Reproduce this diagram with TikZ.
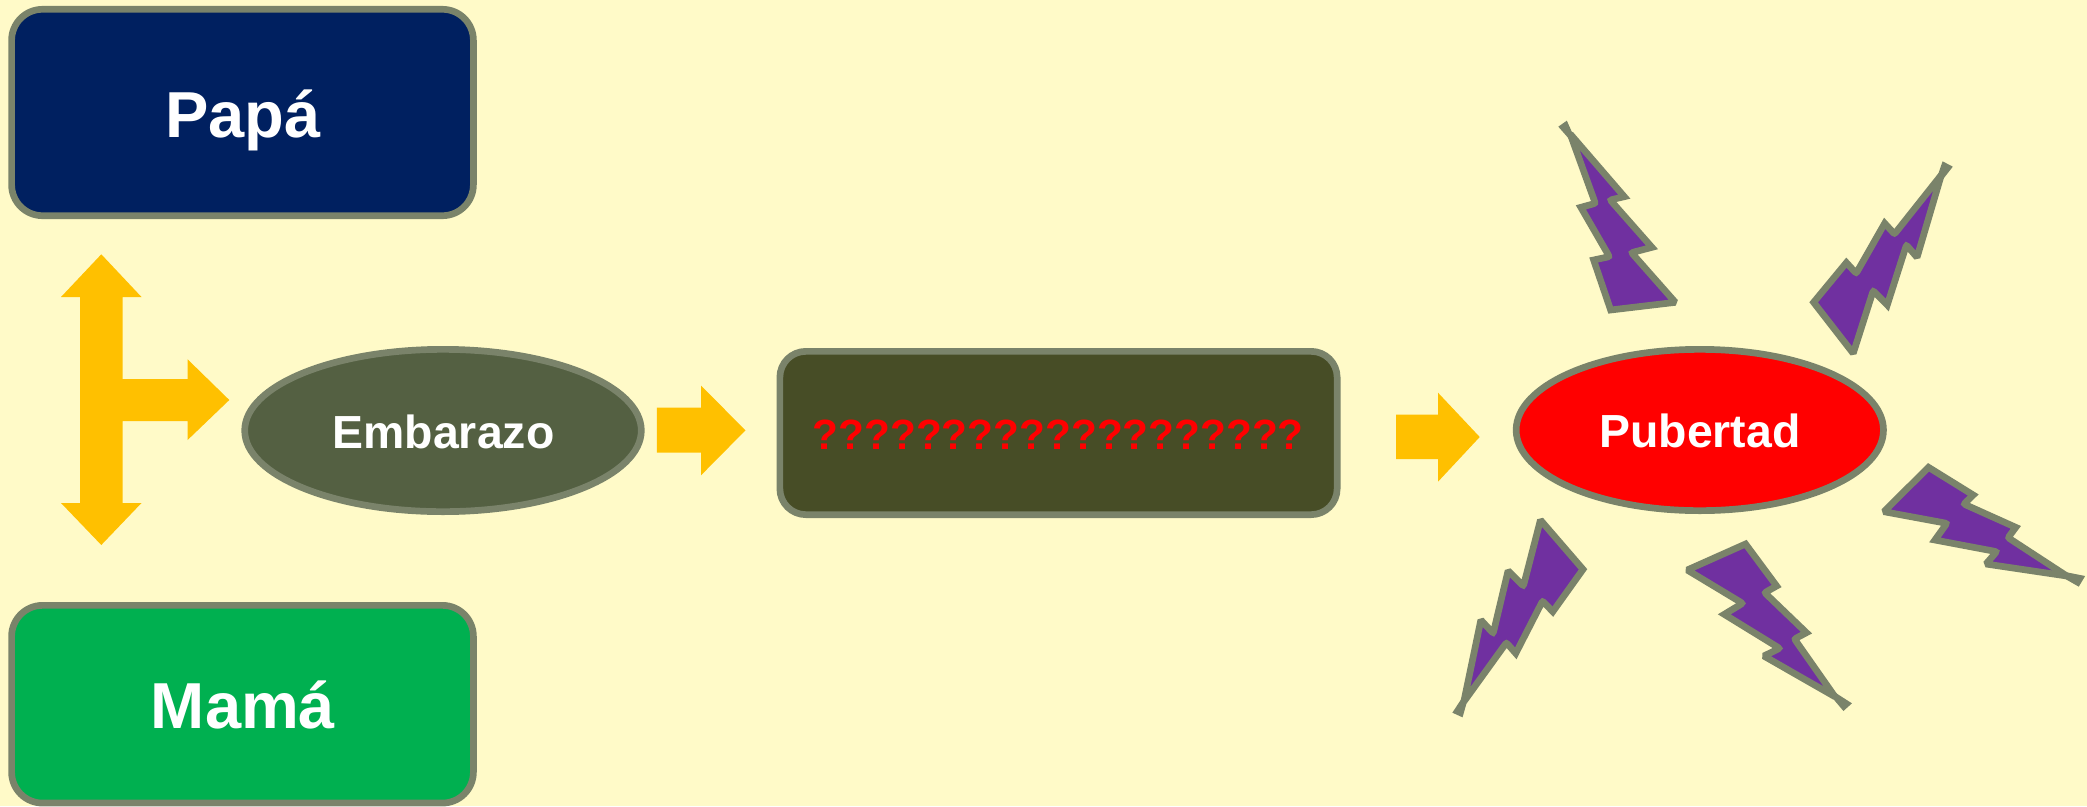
\documentclass[tikz,border=0pt]{standalone}
\usepackage{fontspec}
\setmainfont{Liberation Sans}
\usetikzlibrary{shapes.geometric,calc}
\definecolor{bgcol}{HTML}{FFFAC8}
\definecolor{edgecol}{HTML}{7A836A}
\definecolor{navycol}{HTML}{002060}
\definecolor{greencol}{HTML}{00B050}
\definecolor{olivecol}{HTML}{546042}
\definecolor{darkolive}{HTML}{474D26}
\definecolor{arrowcol}{HTML}{FFC000}
\definecolor{boltcol}{HTML}{7030A0}
\tikzset{
  box/.style={draw=edgecol,line width=6.7pt,rounded corners=31pt,rectangle,inner sep=0pt,outer sep=0pt},
  oval/.style={draw=edgecol,line width=6.7pt,ellipse,inner sep=0pt,outer sep=0pt},
  label big/.style={anchor=base,text=white,inner sep=0pt,font=\fontsize{65}{65}\selectfont\bfseries},
  label mid/.style={anchor=base,text=white,inner sep=0pt,font=\fontsize{46.4}{46}\selectfont\bfseries},
  label ask/.style={anchor=base,text=red,inner sep=0pt,font=\fontsize{42.3}{46}\selectfont\bfseries},
  blockarrow/.style={fill=arrowcol,draw=none},
  boltstyle/.style={draw=edgecol,fill=boltcol,line width=6.7pt,line join=miter,miter limit=2}
}
\newcommand{\boltshape}[4]{%
  \begin{scope}[shift={(#1,#2)},x=0.42553pt,y=-0.33333pt]
    \foreach \xx/\yy [count=\i] in {#3} {\coordinate (V\i) at (\xx,\yy);}
    \foreach \xx/\yy [count=\i] in {#4} {\coordinate (T\i) at (\xx,\yy);}
    \coordinate (TA) at ($($(V1)!22pt!(V2)$)!.5!($(V1)!22pt!(V11)$)$);
    \fill[edgecol] (TA) -- (T1) -- (T2) -- cycle;
    \draw[boltstyle] (V1) -- (V2)
      -- ($(V3)!4pt!(V2)$) .. controls (V3) .. ($(V3)!4pt!(V4)$) -- (V4)
      -- ($(V5)!4pt!(V4)$) .. controls (V5) .. ($(V5)!4pt!(V6)$) -- (V6)
      -- (V7) -- (V8)
      -- ($(V9)!4pt!(V8)$) .. controls (V9) .. ($(V9)!4pt!(V10)$) -- (V10)
      -- ($(V11)!4pt!(V10)$) .. controls (V11) .. ($(V11)!4pt!(V1)$) -- cycle;
  \end{scope}}
\begin{document}
\begin{tikzpicture}[x=1pt,y=-1pt]
\useasboundingbox (0,0) rectangle (2087,806);
\fill[bgcol] (0,0) rectangle (2087,806);

% boxes and ovals
\node[box,fill=navycol,minimum width=461.8pt,minimum height=206.4pt] (papa) at (242.5,112.5) {};
\node[label big] (papat) at (243,137) {Papá};
\node[box,fill=greencol,minimum width=461.8pt,minimum height=197.7pt] (mama) at (242.5,704.2) {};
\node[label big] (mamat) at (243,728.7) {Mamá};
\node[oval,fill=olivecol,minimum width=396.6pt,minimum height=162.3pt] (emb) at (443,430.5) {};
\node[label mid] (embt) at (443.5,448) {Embarazo};
\node[box,fill=darkolive,minimum width=557.3pt,minimum height=163.3pt,rounded corners=26pt] (q) at (1058.5,433) {};
\node[label ask] (qt) at (1058.2,449) {???????????????????};
\node[oval,fill=red,minimum width=367.3pt,minimum height=161.3pt] (pub) at (1699.8,430) {};
\node[label mid] (pubt) at (1700,447.5) {Pubertad};

% block arrows
\fill[blockarrow] (101.3,254.3) -- (141.5,297) -- (122.6,297) -- (122.6,379) -- (187.6,379)
  -- (187.6,359.3) -- (229.3,400) -- (187.6,440) -- (187.6,421) -- (122.6,421) -- (122.6,503)
  -- (141.5,503) -- (101.3,545) -- (61,503) -- (80,503) -- (80,297) -- (61,297) -- cycle;
\fill[blockarrow] (656.8,407.7) -- (701,407.7) -- (701,385.7) -- (745.5,430.3) -- (701,475.3)
  -- (701,452.7) -- (656.8,452.7) -- cycle;
\fill[blockarrow] (1396,414.7) -- (1438,414.7) -- (1438,392.7) -- (1479.7,437) -- (1438,481.7)
  -- (1438,459) -- (1396,459) -- cycle;

% lightning bolts
\boltshape{1420}{100}{353/102,480/290,447/300,545/442,497/458,600/607,448/630,408/480,445/470,378/322,412/310}{325/80,345/62}
\boltshape{1420}{100}{1225/225,1168/472,1143/435,1098/615,1065/572,1018/760,925/607,1002/488,1025/520,1092/370,1115/402}{1228/184,1252/200}
\boltshape{1420}{440}{1520/408,1330/372,1355/335,1210/300,1238/250,1090/215,1195/82,1300/165,1278/192,1400/262,1382/293}{1563/408,1548/440}
\boltshape{1420}{440}{975/770,808/648,845/625,715/523,758/490,628/390,765/312,838/438,810/458,908/578,880/597}{1015/790,995/813}
\boltshape{1420}{440}{103/785,143/540,172/580,207/392,243/438,283/240,383/388,312/515,288/483,225/640,203/608}{76/818,100/832}
\end{tikzpicture}
\end{document}
